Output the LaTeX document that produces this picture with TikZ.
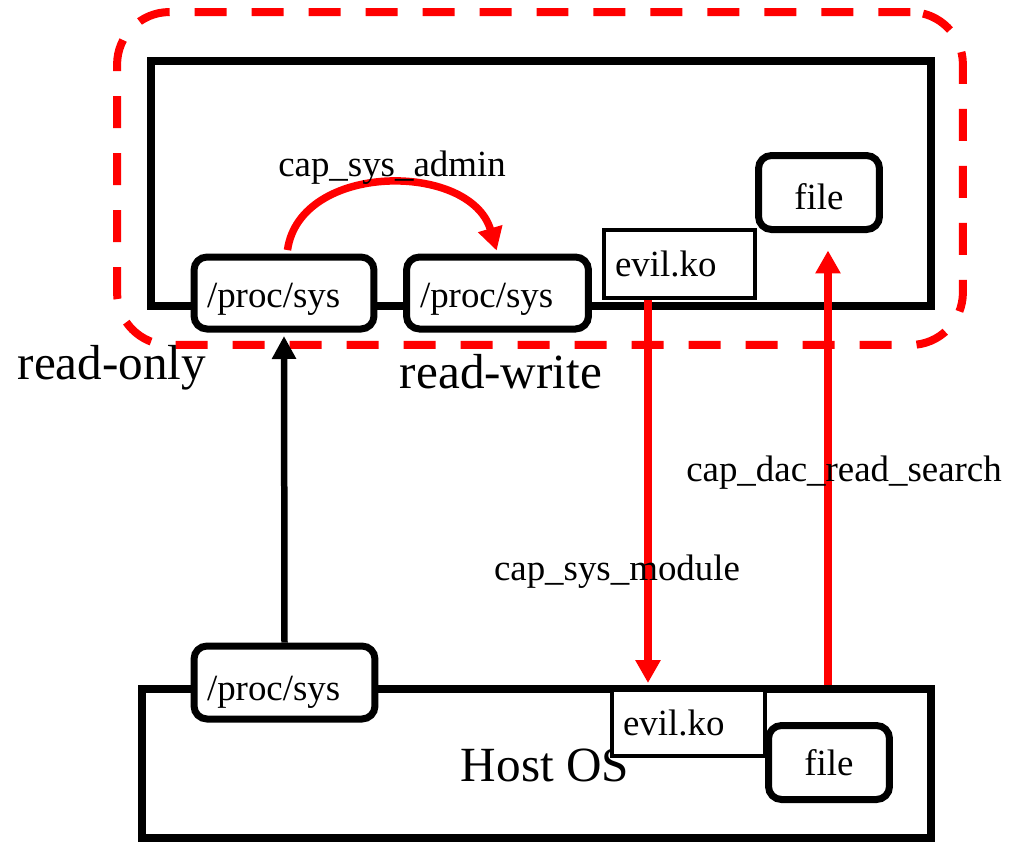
\documentclass[tikz,border=0pt]{standalone}
\usepackage{fontspec}
\setmainfont{Liberation Serif}
\usetikzlibrary{arrows.meta,calc}
\definecolor{myred}{RGB}{255,0,0}
\begin{document}
\begin{tikzpicture}[x=0.02cm,y=-0.02cm,
 small/.style={font=\fontsize{21}{25}\selectfont},
 big/.style={font=\fontsize{28}{32}\selectfont},
 rbox/.style={draw=black, line width=1.4mm, rounded corners=2.6mm, fill=white, small, inner sep=0pt},
 sbox/.style={draw=black, line width=0.8mm, fill=white, small, inner sep=0pt},
 frame/.style={draw=black, line width=1.5mm, inner sep=0pt},
 dashbox/.style={draw=myred, line width=1.6mm, dash pattern=on 6.4mm off 5mm, rounded corners=10.5mm, inner sep=0pt},
 redarrow/.style={draw=myred, line width=1.5mm, -{Triangle[width=4.8mm,length=4.6mm]}},
 blackarrow/.style={draw=black, line width=1.3mm, -{Triangle[width=4.6mm,length=4.6mm]}},
 lbl/.style={small, inner sep=0pt},
 lbig/.style={big, inner sep=0pt},
]
\useasboundingbox (0,0) rectangle (1022,843);

% containers
\node[dashbox, minimum width=16.92cm, minimum height=6.66cm] (zone) at (540,178.5) {};
\node[frame, minimum width=15.6cm, minimum height=4.9cm] (guest) at (541,183.5) {};
\node[frame, minimum width=15.78cm, minimum height=2.98cm] (host) at (536.5,763.5) {};
\node[lbig] (lhost) at (545,765) {Host OS};

% guest boxes
\node[rbox, text width=3.08cm, inner xsep=2.6mm, minimum height=1.44cm, align=left, text height=16.8pt, text depth=0pt] (p1) at (284,293) {/proc/sys};
\node[rbox, text width=3.1cm, inner xsep=2.7mm, minimum height=1.44cm, align=left, text height=16.8pt, text depth=0pt] (p2) at (497.5,293) {/proc/sys};
\node[sbox, text width=2.58cm, inner xsep=2.2mm, minimum height=1.36cm, align=left] (evil1) at (679.5,264) {evil.ko};
\node[rbox, minimum width=2.42cm, minimum height=1.48cm, text height=19pt, text depth=0pt] (file1) at (819,192.5) {file};

% host boxes
\node[rbox, text width=3.1cm, inner xsep=2.6mm, minimum height=1.46cm, align=left, text height=20pt, text depth=0pt] (p3) at (284.5,682.5) {/proc/sys};
\node[sbox, text width=2.62cm, inner xsep=2.2mm, minimum height=1.32cm, align=left] (evil2) at (688.5,723) {evil.ko};
\node[rbox, minimum width=2.42cm, minimum height=1.48cm] (file2) at (829,762.5) {file};

% connectors
\draw[redarrow, shorten <=0.7mm, shorten >=0.6mm] ([xshift=0.6mm]p1.north) .. controls ($(p1.north)+(16,-92)$) and ($(p2.north)+(-27,-92)$) .. (p2.north);
\draw[blackarrow, shorten >=0.7mm] (p3.north) -- (p1.south);
\draw[redarrow, shorten >=1mm] ([xshift=-6.3mm]evil1.south) -- ([xshift=-6.3mm]evil1.south |- evil2.north);
\draw[redarrow, shorten >=3.5mm] ([xshift=1.8mm]file1.south |- host.north) -- ([xshift=1.8mm]file1.south);

% labels
\node[lbl] (lsysadmin) at (392,168) {cap\_sys\_admin};
\node[lbl] (ldac) at (844,473) {cap\_dac\_read\_search};
\node[lbl] (lmod) at (617,572) {cap\_sys\_module};
\node[lbig] (lro) at (112,368) {read-only};
\node[lbig] (lrw) at (501,372) {read-write};
\end{tikzpicture}
\end{document}
